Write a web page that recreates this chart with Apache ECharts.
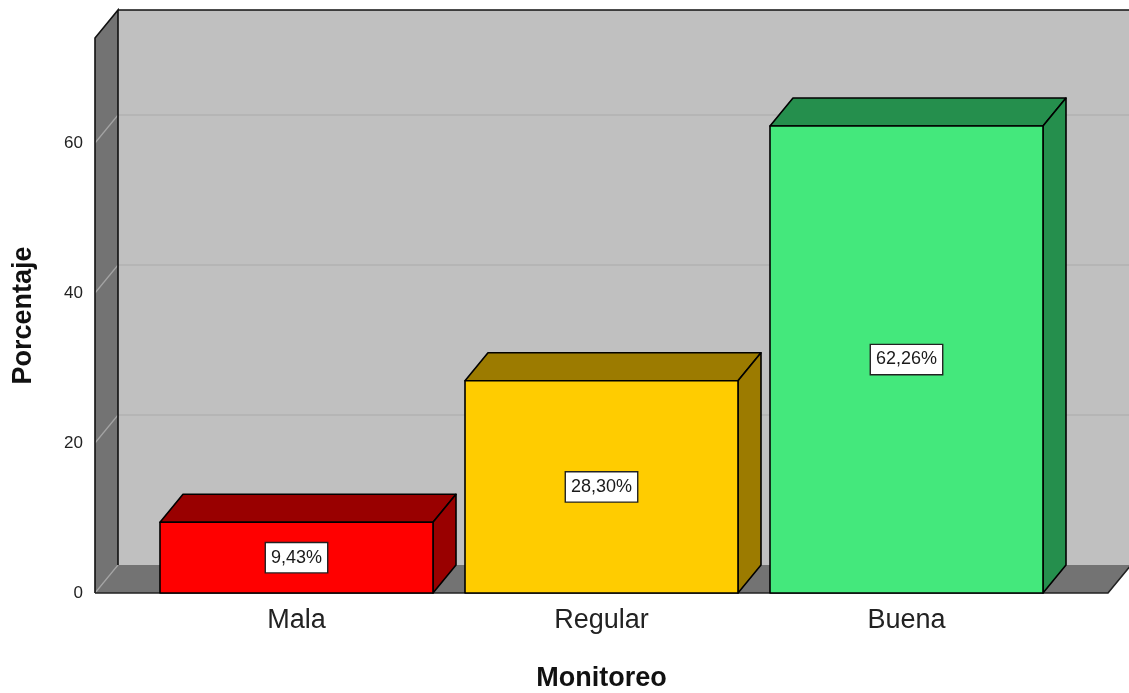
<!DOCTYPE html>
<html>
<head>
<meta charset="utf-8">
<script src="https://cdn.jsdelivr.net/npm/echarts@6/dist/echarts.min.js"></script>
<style>
  html, body { margin: 0; padding: 0; background: #ffffff; }
  #chart { width: 1129px; height: 693px; }
</style>
</head>
<body>
<div id="chart"></div>
<script>
// Monitoreo – distribución porcentual
const categories = ['Mala', 'Regular', 'Buena'];
const percentages = [9.43, 28.30, 62.26];
const yTicks = [0, 20, 40, 60];
const frontColors = ['#ff0000', '#ffcc00', '#44e87c'];
const shadeColors = ['#990000', '#9c7b00', '#258f4d'];

// pseudo-3D depth offset (pixels) and wall extension beyond the category bands
const DX = 23, DY = -28;
const WALL_EXT = 49;
const BAR_RATIO = 273 / 305;
const FONT = '"Liberation Sans", Arial, sans-serif';

function fmtPct(v) {
  return v.toFixed(2).replace('.', ',') + '%';
}

function renderWalls(params, api) {
  const cs = params.coordSys;
  const x0 = cs.x - WALL_EXT;
  const x1 = cs.x + cs.width + WALL_EXT;
  const yTop = cs.y;
  const yBot = cs.y + cs.height;
  const farRight = x1 + DX + 40;
  const children = [];

  // back wall
  children.push({
    type: 'rect',
    shape: { x: x0 + DX, y: yTop + DY, width: farRight - (x0 + DX), height: cs.height },
    style: { fill: '#c0c0c0' }
  });
  // side wall
  children.push({
    type: 'polygon',
    shape: { points: [[x0, yTop], [x0 + DX, yTop + DY], [x0 + DX, yBot + DY], [x0, yBot]] },
    style: { fill: '#737373' }
  });
  // floor
  children.push({
    type: 'polygon',
    shape: { points: [[x0, yBot], [x0 + DX, yBot + DY], [x1 + DX, yBot + DY], [x1, yBot]] },
    style: { fill: '#737373' }
  });

  // grid lines on the back wall and side wall
  yTicks.forEach(function (v) {
    const y = api.coord([0, v])[1];
    if (v > 0) {
      children.push({
        type: 'line',
        shape: { x1: x0 + DX, y1: y + DY, x2: farRight, y2: y + DY },
        style: { stroke: '#a9a9a9', lineWidth: 1.2 }
      });
    }
    children.push({
      type: 'line',
      shape: { x1: x0, y1: y, x2: x0 + DX, y2: y + DY },
      style: { stroke: '#a4a4a4', lineWidth: 1.2 }
    });
  });

  // outlines
  children.push({
    type: 'polyline',
    shape: { points: [[x0, yBot], [x0, yTop], [x0 + DX, yTop + DY], [x0 + DX, yBot + DY]] },
    style: { stroke: '#111', lineWidth: 1.6, fill: null }
  });
  children.push({
    type: 'line',
    shape: { x1: x0 + DX, y1: yTop + DY, x2: farRight, y2: yTop + DY },
    style: { stroke: '#111', lineWidth: 1.6 }
  });
  children.push({
    type: 'polyline',
    shape: { points: [[x0, yBot], [x1, yBot], [x1 + DX, yBot + DY]] },
    style: { stroke: '#222', lineWidth: 1.6, fill: null }
  });

  return { type: 'group', children: children };
}

function renderBar(params, api) {
  const i = api.value(0);
  const v = api.value(1);
  const base = api.coord([i, 0]);
  const top = api.coord([i, v]);
  const w = api.size([1, 0])[0] * BAR_RATIO;
  const xl = base[0] - w / 2;
  const xr = base[0] + w / 2;
  const yt = top[1];
  const yb = base[1];
  const edge = { stroke: '#000', lineWidth: 1.6, lineJoin: 'round' };
  const shade = shadeColors[params.dataIndex];
  const front = frontColors[params.dataIndex];

  return {
    type: 'group',
    children: [
      {
        type: 'polygon',
        shape: { points: [[xl, yt], [xl + DX, yt + DY], [xr + DX, yt + DY], [xr, yt]] },
        style: Object.assign({ fill: shade }, edge)
      },
      {
        type: 'polygon',
        shape: { points: [[xr, yt], [xr + DX, yt + DY], [xr + DX, yb + DY], [xr, yb]] },
        style: Object.assign({ fill: shade }, edge)
      },
      {
        type: 'rect',
        shape: { x: xl, y: yt, width: w, height: yb - yt },
        style: Object.assign({ fill: front }, edge)
      },
      {
        type: 'text',
        x: (xl + xr) / 2,
        y: (yt + yb) / 2,
        style: {
          text: fmtPct(v),
          align: 'center',
          verticalAlign: 'middle',
          fill: '#1a1a1a',
          font: '18px ' + FONT,
          backgroundColor: '#ffffff',
          borderColor: '#222',
          borderWidth: 1.4,
          padding: [6, 5, 5, 5]
        }
      }
    ]
  };
}

const chart = echarts.init(document.getElementById('chart'), null, { renderer: 'canvas' });

chart.setOption({
  animation: false,
  backgroundColor: '#ffffff',
  grid: { left: 144, right: 70, top: 38, bottom: 100, outerBoundsMode: 'none' },
  xAxis: {
    type: 'category',
    data: categories,
    axisLine: { show: false },
    axisTick: { show: false },
    axisLabel: { fontSize: 27, color: '#222', margin: 14, fontFamily: FONT },
    name: 'Monitoreo',
    nameLocation: 'middle',
    nameGap: 72,
    nameTextStyle: { fontSize: 27, fontWeight: 'bold', color: '#111', fontFamily: FONT }
  },
  yAxis: {
    type: 'value',
    min: 0,
    max: 74,
    interval: 20,
    offset: WALL_EXT,
    axisLine: { show: false },
    axisTick: { show: false },
    splitLine: { show: false },
    axisLabel: {
      fontSize: 17,
      color: '#222',
      margin: 12,
      fontFamily: FONT,
      formatter: function (v) { return yTicks.indexOf(v) >= 0 ? String(v) : ''; }
    },
    name: 'Porcentaje',
    nameLocation: 'middle',
    nameRotate: 90,
    nameGap: 58,
    nameTextStyle: { fontSize: 27, fontWeight: 'bold', color: '#111', fontFamily: FONT }
  },
  series: [
    {
      type: 'custom',
      name: 'walls',
      silent: true,
      clip: false,
      z: 1,
      data: [[0, 0]],
      renderItem: renderWalls
    },
    {
      type: 'custom',
      name: 'Porcentaje',
      clip: false,
      z: 2,
      data: percentages.map(function (p, i) { return [i, p]; }),
      renderItem: renderBar
    }
  ]
});
</script>
</body>
</html>
